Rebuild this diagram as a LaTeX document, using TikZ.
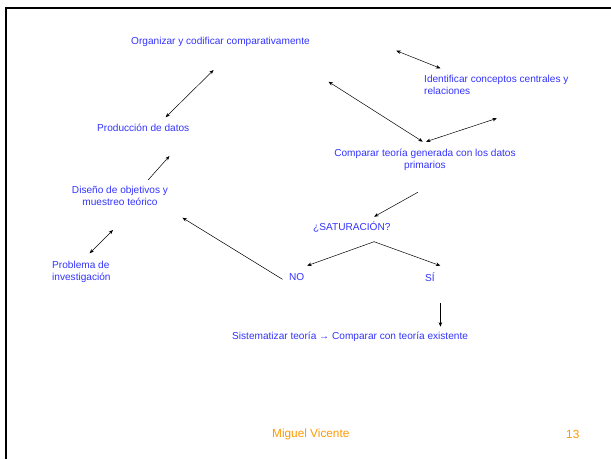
\documentclass[tikz,border=0pt]{standalone}
\usepackage{fontspec}
\setmainfont{Liberation Sans}
\usepackage{xcolor}
\usepackage{tikz}
\usetikzlibrary{arrows.meta}
\definecolor{txtblue}{RGB}{51,51,255}
\definecolor{txtorange}{RGB}{255,153,0}

\begin{document}
\begin{tikzpicture}[x=1pt, y=-1pt, every node/.style={inner sep=0pt, text=txtblue, font=\fontsize{10.1}{12}\selectfont}, tip/.style={-{Stealth[length=4.5pt,width=3.5pt]}, line width=0.5pt}, twotip/.style={{Stealth[length=4.5pt,width=3.5pt]}-{Stealth[length=4.5pt,width=3.5pt]}, line width=0.5pt}, foot/.style={text=txtorange, font=\fontsize{11.8}{14}\selectfont}]
		\useasboundingbox (0,0) rectangle (611,459);
		\draw[line width=2pt] (6,459) -- (6,7.5) -- (611,7.5);

		\node[anchor=west](org) at (131,42) {Organizar y codificar comparativamente};
		\node[anchor=west, align=left](ident) at (424,85) {Identificar conceptos centrales y\\relaciones};
		\node[anchor=west](prod) at (97,128) {Producción de datos};
		\node[align=center](comp) at (425,160) {Comparar teoría generada con los datos\\primarios};
		\node[align=center](dis) at (120,196) {Diseño de objetivos y\\muestreo teórico};
		\node[anchor=west](sat) at (313,227) {¿SATURACIÓN?};
		\node[anchor=west, align=left](prob) at (52,271.5) {Problema de\\investigación};
		\node[anchor=west](no) at (289,277) {NO};
		\node[anchor=west](si) at (425,277) {SÍ};
		\node[anchor=west](sist) at (232,337) {Sistematizar teoría → Comparar con teoría existente};
		\node[foot, anchor=west](autor) at (272,434) {Miguel Vicente};
		\node[foot, anchor=west](pag) at (566,434) {13};

		\coordinate (orgA) at (213.6,70);
		\coordinate (prodA) at (165.6,117.3);
		\coordinate (identA) at (396.3,50.7);
		\coordinate (identB) at (440.4,68.3);
		\coordinate (orgB) at (328.5,81.7);
		\coordinate (compA) at (422.8,141.7);
		\coordinate (compB) at (426,141.7);
		\coordinate (identC) at (496.9,118.3);
		\coordinate (disA) at (148.1,180);
		\coordinate (prodB) at (169.5,156);
		\coordinate (compC) at (417.8,192.3);
		\coordinate (satA) at (374.1,216.7);
		\coordinate (noA) at (282.5,279.3);
		\coordinate (disB) at (182.4,217.7);
		\coordinate (probA) at (89.6,253.3);
		\coordinate (disC) at (113,230);
		\coordinate (satB) at (374.1,241.7);
		\coordinate (noB) at (307.1,265.7);
		\coordinate (siA) at (440.4,265.7);
		\coordinate (siB) at (440.4,303.3);
		\coordinate (sistA) at (440.4,326.7);

		\draw[twotip] (orgA) -- (prodA);
		\draw[twotip] (identA) -- (identB);
		\draw[twotip] (orgB) -- (compA);
		\draw[twotip] (compB) -- (identC);
		\draw[tip] (disA) -- (prodB);
		\draw[tip] (compC) -- (satA);
		\draw[tip] (noA) -- (disB);
		\draw[twotip] (probA) -- (disC);
		\draw[tip] (satB) -- (noB);
		\draw[tip] (satB) -- (siA);
		\draw[tip] (siB) -- (sistA);
\end{tikzpicture}
\end{document}
